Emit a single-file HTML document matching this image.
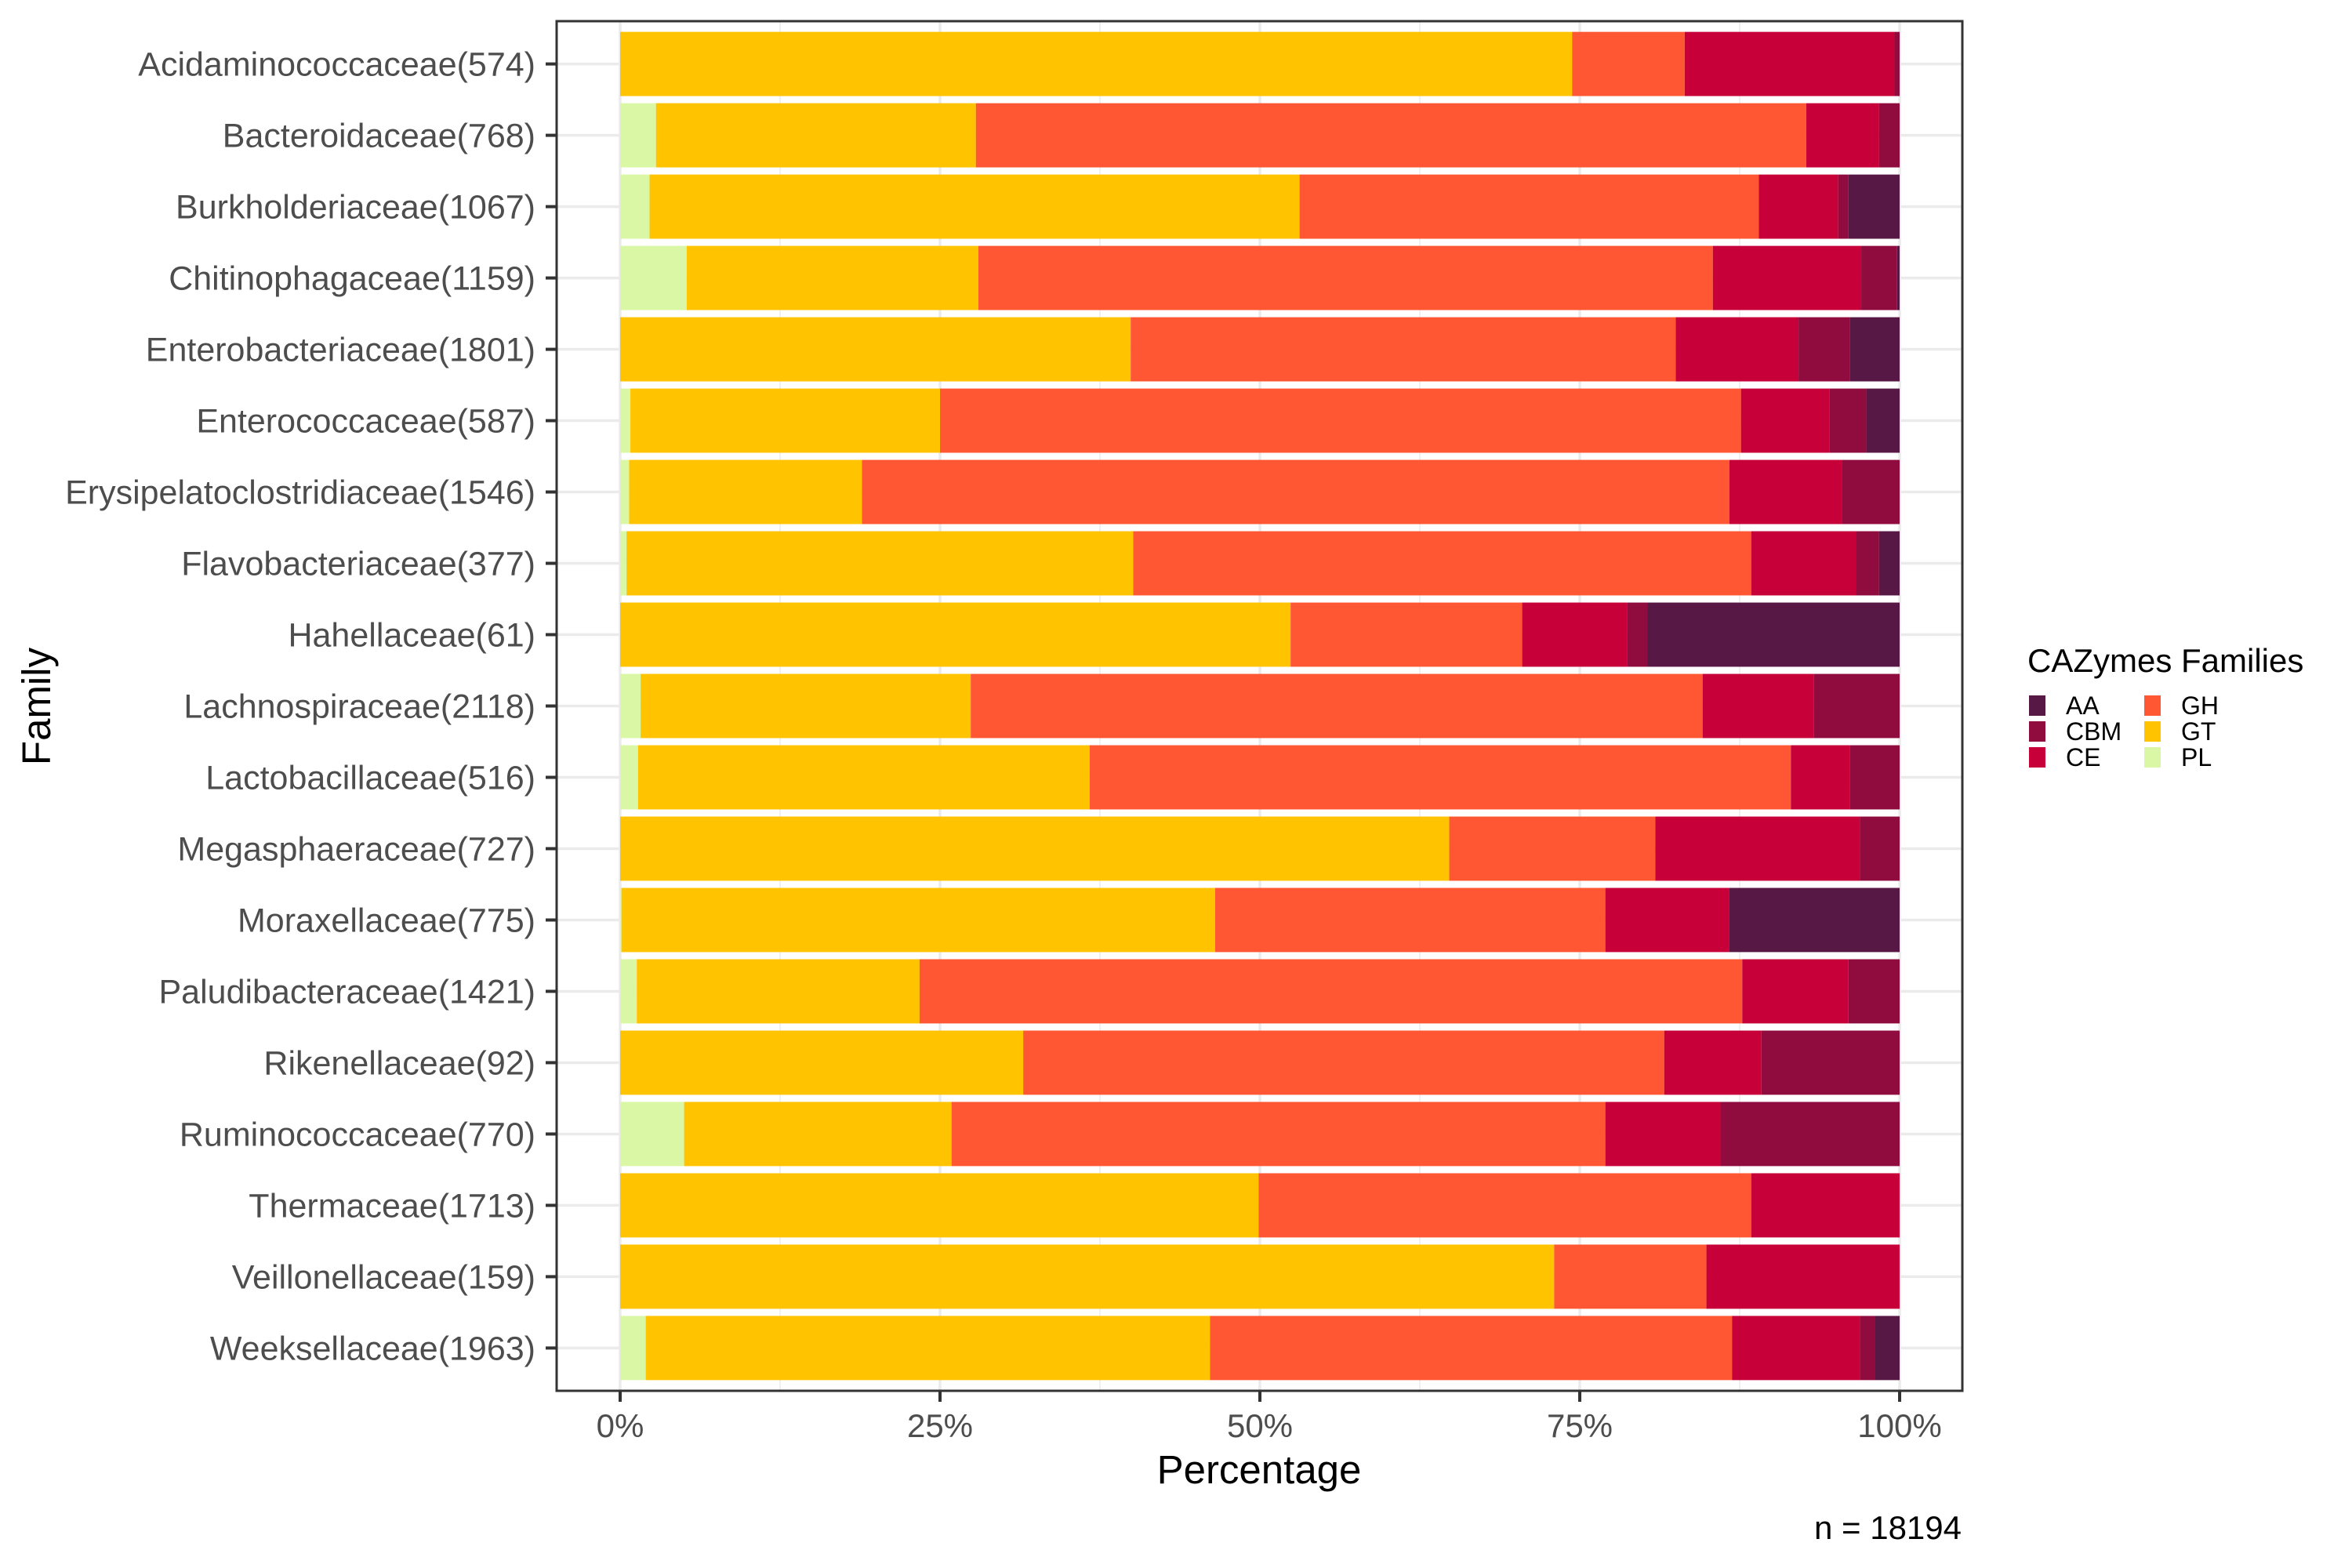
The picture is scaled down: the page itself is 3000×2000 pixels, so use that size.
<!DOCTYPE html>
<html><head><meta charset="utf-8"><style>
html,body{margin:0;padding:0;background:#fff;}
svg{display:block;font-family:"Liberation Sans",Arial,sans-serif;}
</style></head><body>
<svg id="chart" width="3000" height="2000" viewBox="0 0 3000 2000">
<g id="grid"></g>
<g id="bars"></g>
<rect x="710" y="27" width="1793" height="1747" fill="none" stroke="#333" stroke-width="3"/>
<g id="yaxis"></g>
<g id="xaxis"></g>
<text x="1606" y="1892" font-size="51" text-anchor="middle" fill="#000">Percentage</text>
<text transform="translate(64,901) rotate(-90)" font-size="51" text-anchor="middle" fill="#000">Family</text>
<text x="2502" y="1963" font-size="42" text-anchor="end" fill="#000">n = 18194</text>
<g id="legend">
<text x="2586" y="857" font-size="42" fill="#000">CAZymes Families</text>
</g>
</svg>
<script>
const categories=["Acidaminococcaceae(574)","Bacteroidaceae(768)","Burkholderiaceae(1067)","Chitinophagaceae(1159)","Enterobacteriaceae(1801)","Enterococcaceae(587)","Erysipelatoclostridiaceae(1546)","Flavobacteriaceae(377)","Hahellaceae(61)","Lachnospiraceae(2118)","Lactobacillaceae(516)","Megasphaeraceae(727)","Moraxellaceae(775)","Paludibacteraceae(1421)","Rikenellaceae(92)","Ruminococcaceae(770)","Thermaceae(1713)","Veillonellaceae(159)","Weeksellaceae(1963)"];
const seriesNames=["PL","GT","GH","CE","CBM","AA"];
const PL=[0,2.8,2.3,5.2,0,0.8,0.7,0.5,0,1.6,1.4,0,0.1,1.3,0,5.0,0,0,2.0];
const GT=[74.4,25.0,50.8,22.8,39.9,24.2,18.2,39.6,52.4,25.8,35.3,64.8,46.4,22.1,31.5,20.9,49.9,73.0,44.1];
const GH=[8.8,64.9,35.9,57.4,42.6,62.6,67.8,48.3,18.1,57.2,54.8,16.1,30.5,64.3,50.1,51.1,38.5,11.9,40.8];
const CE=[16.4,5.7,6.2,11.6,9.6,6.9,8.8,8.2,8.2,8.7,4.6,16.0,9.7,8.3,7.6,9.0,11.6,15.1,10.0];
const CBM=[0.4,1.6,0.8,2.8,4.0,2.9,4.5,1.8,1.6,6.7,3.9,3.1,0,4.0,10.8,14.0,0,0,1.2];
const AA=[0,0,4.0,0.2,3.9,2.6,0,1.6,19.7,0,0,0,13.3,0,0,0,0,0,1.9];
const xTicks=[0,25,50,75,100];
const xTickLabels=["0%","25%","50%","75%","100%"];
const legendOrder=["AA","CBM","CE","GH","GT","PL"];

const colors={PL:"#DAF7A6",GT:"#FFC300",GH:"#FF5733",CE:"#C70039",CBM:"#900C3F",AA:"#581845"};
const seriesData={PL,GT,GH,CE,CBM,AA};
const NS="http://www.w3.org/2000/svg";
const X0=791,X1=2423,YT=27,YB=1774;
const step=(YB-YT)/(categories.length-1+1.2);
function xs(v){return X0+(X1-X0)*v/100;}
function ys(i){return YT+step*(0.6+i);}
function mk(tag,attrs,parent){const e=document.createElementNS(NS,tag);for(const k in attrs)e.setAttribute(k,attrs[k]);parent.appendChild(e);return e;}
const grid=document.getElementById('grid'),bars=document.getElementById('bars'),yax=document.getElementById('yaxis'),xax=document.getElementById('xaxis'),leg=document.getElementById('legend');
for(let i=0;i<xTicks.length-1;i++){const v=(xTicks[i]+xTicks[i+1])/2;
 const l=mk('line',{x1:xs(v),x2:xs(v),y1:YT,y2:YB,stroke:'#ebebeb','stroke-width':1.5},grid);
 
 }
xTicks.forEach((v,i)=>{
 const l=mk('line',{x1:xs(v),x2:xs(v),y1:YT,y2:YB,stroke:'#ebebeb','stroke-width':3.5},grid);
 
 
 const t=mk('line',{x1:xs(v),x2:xs(v),y1:YB,y2:YB+14,stroke:'#333','stroke-width':4},xax);
 
 
 const tx=mk('text',{x:xs(v),y:1833,'font-size':42,'text-anchor':'middle',fill:'#4d4d4d'},xax);
 tx.textContent=xTickLabels[i];
 
 
});
categories.forEach((c,i)=>{
 const y=ys(i);
 const g=mk('line',{x1:710,x2:2503,y1:y,y2:y,stroke:'#ebebeb','stroke-width':3.5},grid);
 
 
 const t=mk('line',{x1:696,x2:710,y1:y,y2:y,stroke:'#333','stroke-width':4},yax);
 
 
 const tx=mk('text',{x:683,y:y+15,'font-size':43,'text-anchor':'end',fill:'#4d4d4d'},yax);
 tx.textContent=c;
 
 
 let cum=0;const h=step*0.9;
 seriesNames.forEach(s=>{
  const v=seriesData[s][i];
  if(v>0){
   const r=mk('rect',{x:xs(cum),y:y-h/2,width:xs(cum+v)-xs(cum),height:h,fill:colors[s]},bars);
   
   
  }
  cum+=v;
 });
});
legendOrder.forEach((s,i)=>{
 const col=Math.floor(i/3),row=i%3;
 const kx=2588+col*147,ky=887+row*33;
 const r=mk('rect',{x:kx,y:ky,width:21,height:26,fill:colors[s]},leg);
 
 
 const t=mk('text',{x:kx+47,y:ky+24,'font-size':32,fill:'#000'},leg);
 t.textContent=s;
 
 
});
</script>
</body></html>
